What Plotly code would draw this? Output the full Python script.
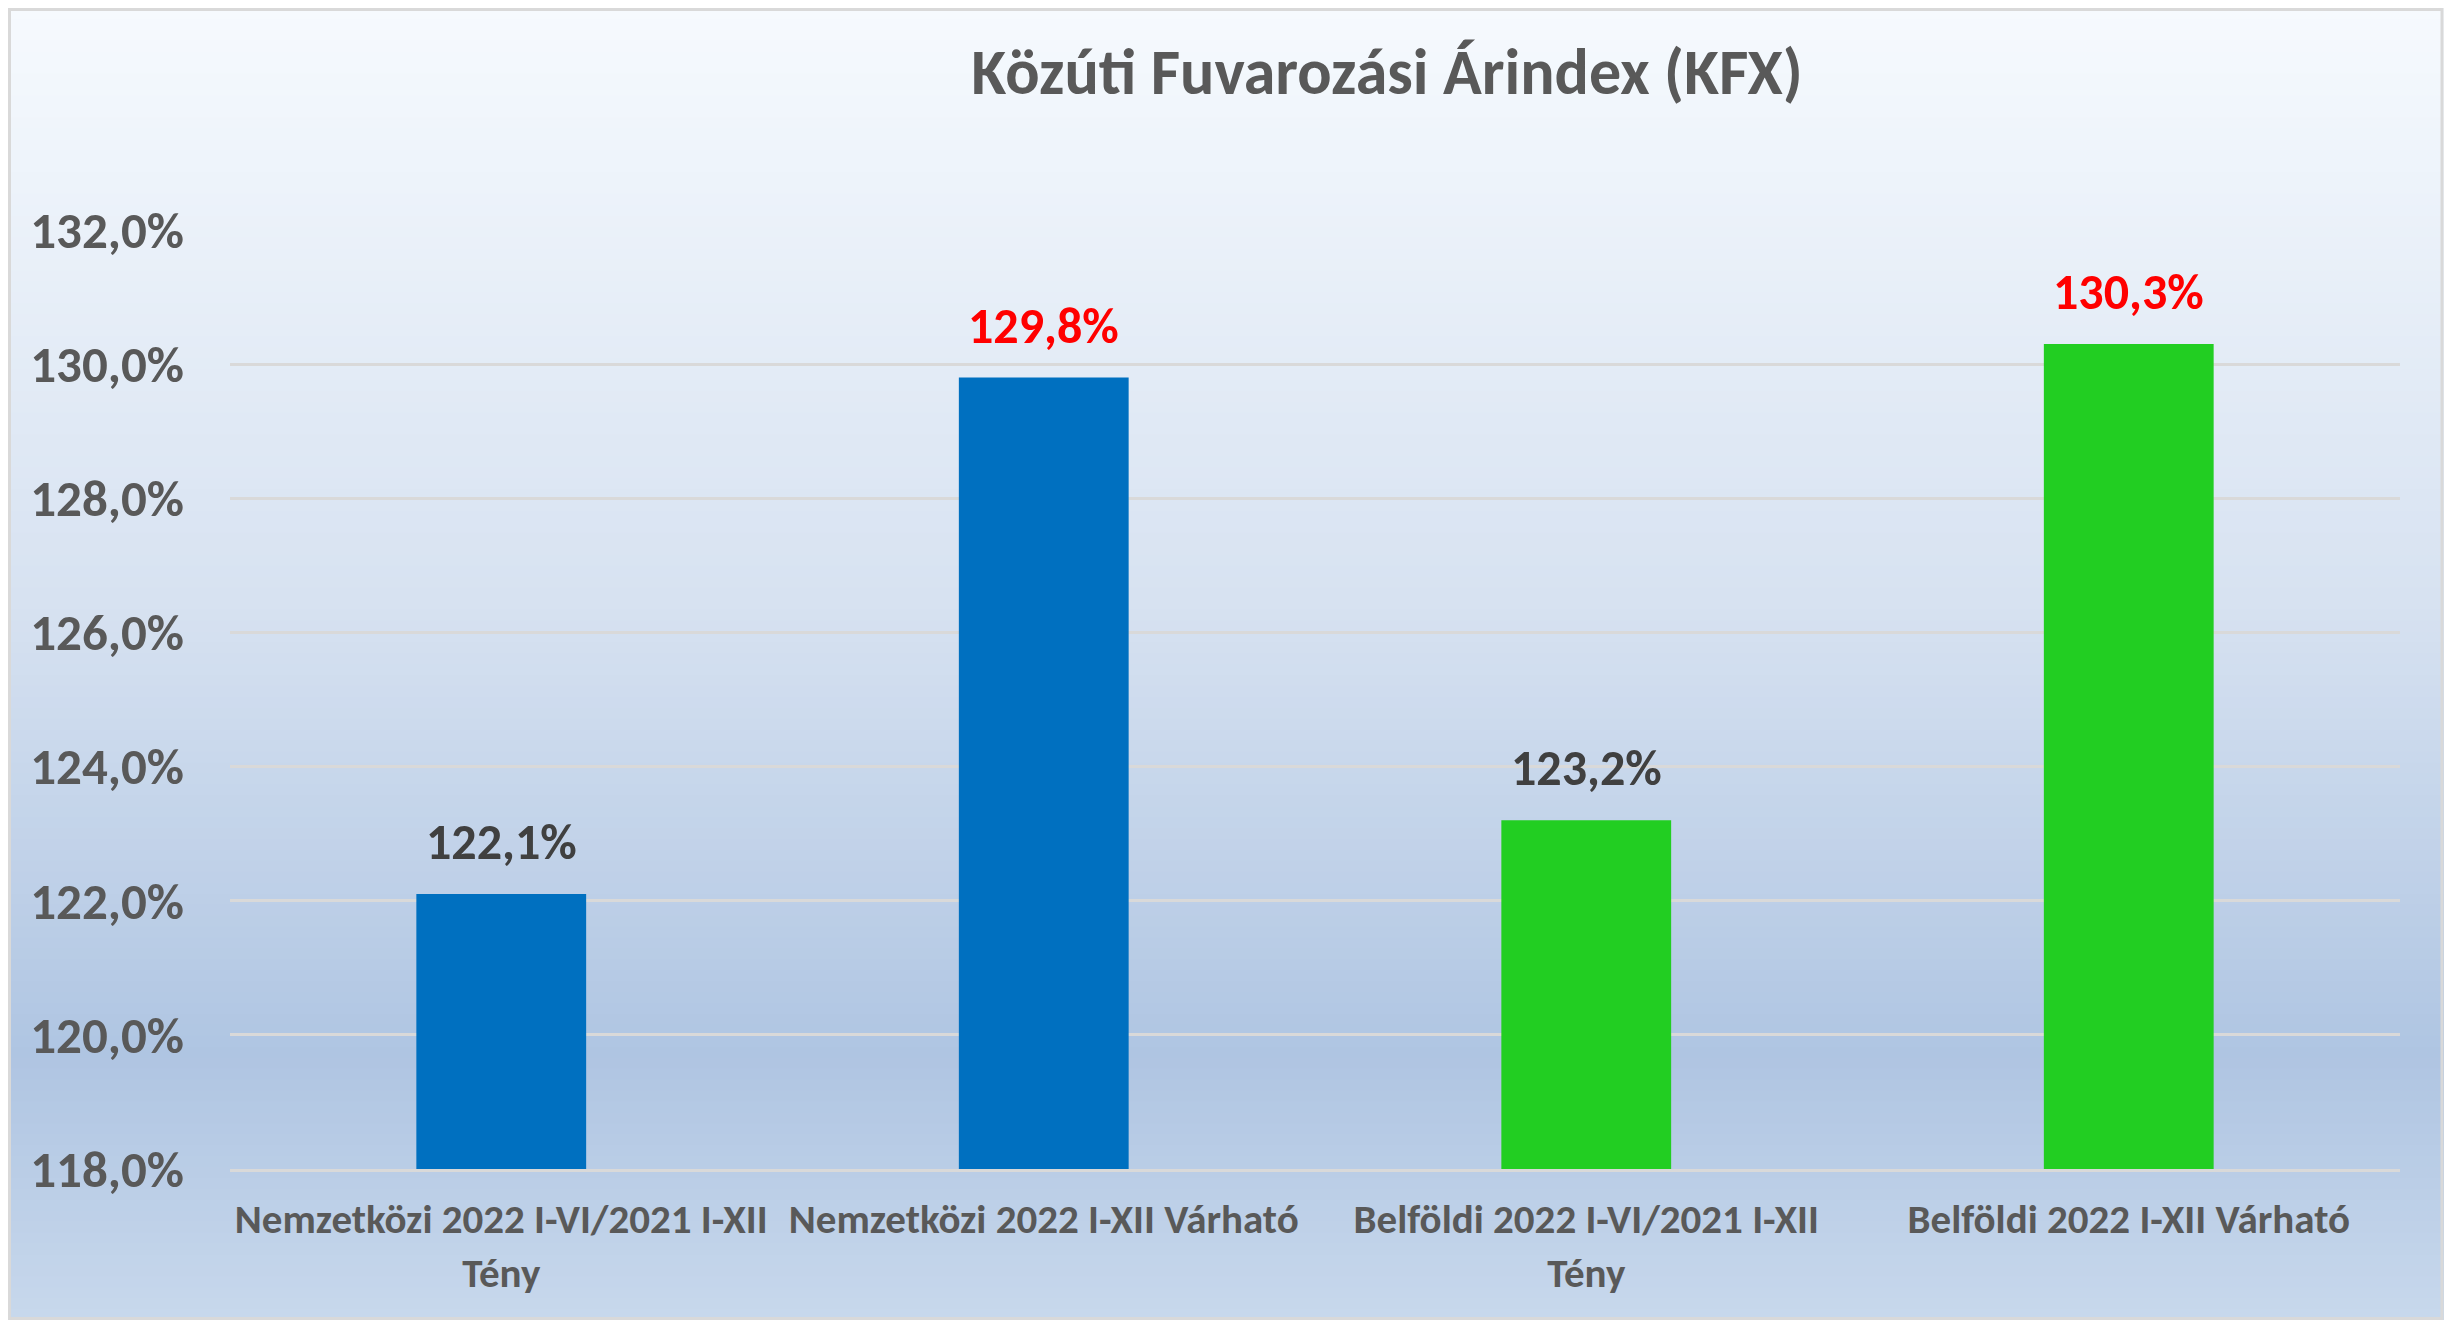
import plotly.graph_objects as go

# Adatok
kategoriak = [
    "Nemzetközi 2022 I-VI/2021 I-XII<br>Tény",
    "Nemzetközi 2022 I-XII Várható",
    "Belföldi 2022 I-VI/2021 I-XII<br>Tény",
    "Belföldi 2022 I-XII Várható",
]
ertekek = [122.1, 129.8, 123.2, 130.3]
oszlop_szinek = ["#0070C0", "#0070C0", "#22CE22", "#22CE22"]
cimke_szinek = ["#404040", "#FF0000", "#404040", "#FF0000"]
y_tickek = [118, 120, 122, 124, 126, 128, 130, 132]

# az oldal 8px-es margoja miatt kisebb abra
W, H = 2436, 1312
ML, MR, MT, MB = 222, 44, 222, 151
PW, PH = W - ML - MR, H - MT - MB
FONT = "Carlito, Lato, sans-serif"


def szazalek(v):
    return f"{v:.1f}%".replace(".", ",")


fig = go.Figure()

fig.add_trace(go.Bar(
    x=kategoriak,
    y=ertekek,
    base=0,
    marker=dict(color=oszlop_szinek, line=dict(width=0)),
    hoverinfo="skip",
))

# adatcimkek az oszlopok folott
for k, v, c in zip(kategoriak, ertekek, cimke_szinek):
    fig.add_annotation(
        x=k, y=v, text=szazalek(v), showarrow=False,
        yanchor="bottom", yshift=20,
        font=dict(family=FONT, size=50, color=c, weight="bold"),
    )


def keverd(c1, c2, t):
    a = [int(c1[i:i + 2], 16) for i in (1, 3, 5)]
    b = [int(c2[i:i + 2], 16) for i in (1, 3, 5)]
    return "rgb(%d,%d,%d)" % tuple(round(a[j] + (b[j] - a[j]) * t) for j in range(3))


# hatter szinatmenet (felulrol lefele)
stops = [(0.0, "#F6FAFE"), (0.45, "#D7E2F1"), (0.8, "#AFC5E2"), (1.0, "#C8D8EC")]
n = 120
shapes = []
for i in range(n):
    t = (i + 0.5) / n
    for (p0, c0), (p1, c1) in zip(stops[:-1], stops[1:]):
        if p0 <= t <= p1:
            col = keverd(c0, c1, (t - p0) / (p1 - p0))
            break
    top_px = i * H / n
    bot_px = (i + 1) * H / n + 1
    shapes.append(dict(
        type="rect", xref="paper", yref="paper", layer="below",
        x0=-ML / PW, x1=(W - ML) / PW,
        y0=(H - MB - bot_px) / PH, y1=(H - MB - top_px) / PH,
        fillcolor=col, line=dict(width=0),
    ))

# keret
shapes.append(dict(
    type="rect", xref="paper", yref="paper", layer="above",
    x0=(-ML + 1.5) / PW, x1=(W - ML - 2) / PW,
    y0=(-MB + 1.5) / PH, y1=(H - MB - 1.5) / PH,
    line=dict(color="#D9D9D9", width=3), fillcolor="rgba(0,0,0,0)",
))

fig.update_layout(
    width=W, height=H,
    margin=dict(l=ML, r=MR, t=MT, b=MB, autoexpand=False),
    paper_bgcolor="rgba(0,0,0,0)",
    plot_bgcolor="rgba(0,0,0,0)",
    bargap=0.687,
    showlegend=False,
    shapes=shapes,
    title=dict(
        text="Közúti Fuvarozási Árindex (KFX)",
        x=1379 / W, xanchor="center", xref="container",
        y=1 - 64 / H, yanchor="middle", yref="container",
        font=dict(family=FONT, size=64, color="#595959", weight="bold"),
    ),
    xaxis=dict(
        showgrid=False,
        showline=True, linecolor="#D9D9D9", linewidth=3,
        ticks="",
        tickfont=dict(family=FONT, size=41, color="#595959", weight="bold"),
        ticklabelstandoff=12,
    ),
    yaxis=dict(
        range=[y_tickek[0], y_tickek[-1]],
        tickvals=y_tickek,
        ticktext=[szazalek(v) for v in y_tickek],
        showgrid=True, gridcolor="#D9D9D9", gridwidth=3,
        zeroline=False, showline=False, ticks="",
        tickfont=dict(family=FONT, size=51, color="#595959", weight="bold"),
        ticklabelstandoff=45,
    ),
)

fig.write_html("out.html")
